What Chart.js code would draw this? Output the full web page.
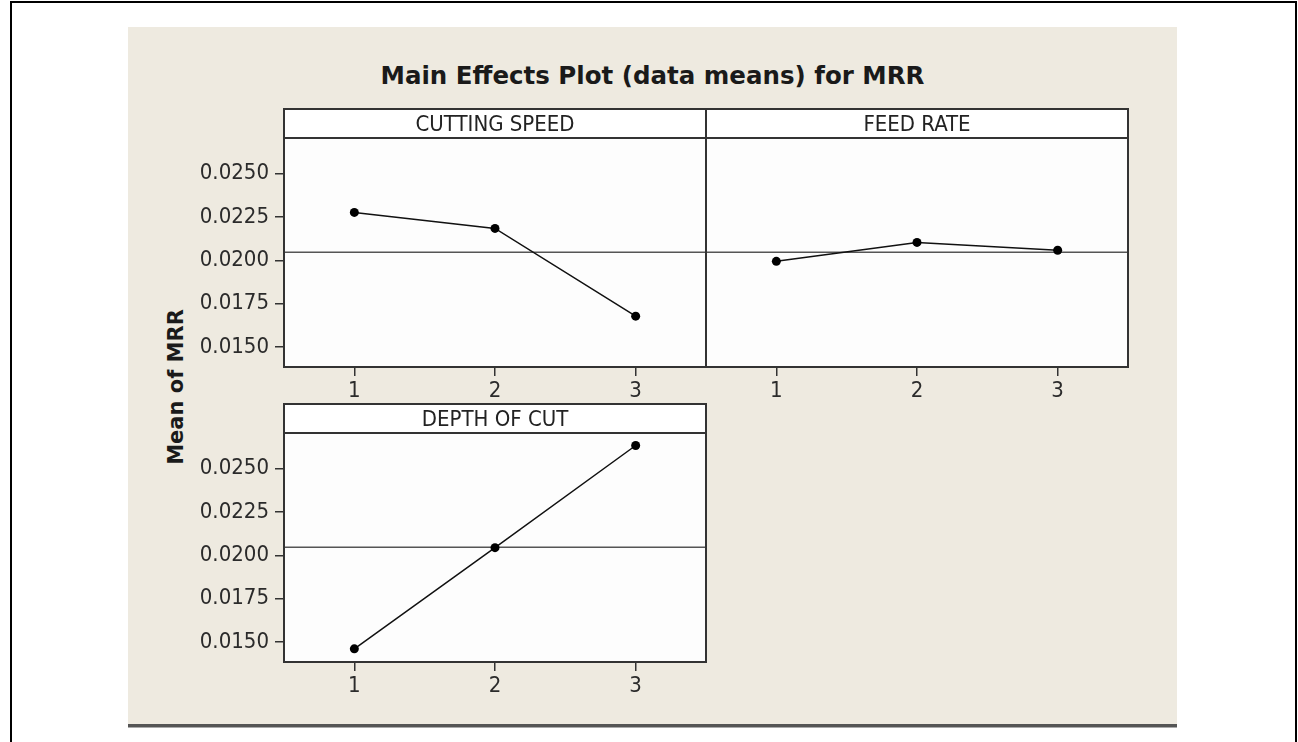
<!DOCTYPE html>
<html>
<head>
<meta charset="utf-8">
<title>Main Effects Plot (data means) for MRR</title>
<script src="https://cdn.jsdelivr.net/npm/chart.js@4"></script>
<style>
    body { margin: 0; width: 1298px; height: 742px; background: #fff; position: relative; overflow: hidden; font-family: 'DejaVu Sans', sans-serif; }
    #frame { position: absolute; left: 10px; top: 1px; width: 1283px; height: 800px; border: 2px solid #000; }
    #bg { position: absolute; left: 128px; top: 27px; width: 1049px; height: 697px; background: #eeeae0; border-bottom: 3px solid #555; box-shadow: 0 1px 0 #aaa; }
    #title { position: absolute; left: 128px; width: 1049px; top: 62px; text-align: center; font-size: 24.5px; line-height: 28px; font-weight: bold; color: #1a1a1a; white-space: nowrap; }
    #ylabel { position: absolute; left: 176px; top: 387px; transform: translate(-50%, -50%) rotate(-90deg); font-size: 21px; font-weight: bold; color: #1a1a1a; white-space: nowrap; }
    .panel { position: absolute; }
</style>
</head>
<body>
<div id="frame"></div>
<div id="bg"></div>
<div id="title">Main Effects Plot (data means) for MRR</div>
<div id="ylabel">Mean of MRR</div>
<div class="panel" style="left:140px; top:100px;"><canvas id="p1" width="575" height="310"></canvas></div>
<div class="panel" style="left:700px; top:100px;"><canvas id="p2" width="440" height="310"></canvas></div>
<div class="panel" style="left:140px; top:395px;"><canvas id="p3" width="575" height="310"></canvas></div>
<script>
const levels = ['1', '2', '3'];
const cuttingSpeed = [0.02276, 0.02184, 0.01678];
const feedRate = [0.01994, 0.02103, 0.02058];
const depthOfCut = [0.01461, 0.02044, 0.02633];
const grandMean = 0.02046;
const yTicks = [0.0150, 0.0175, 0.0200, 0.0225, 0.0250];
const yMin = 0.01385;
const yMax = 0.02705;

const FONT = "'DejaVu Sans Condensed', 'DejaVu Sans', sans-serif";
Chart.defaults.font.family = FONT;
Chart.defaults.color = '#2b2b2b';

// white plot box, header strip and reference line at the overall mean
const panelPlugin = {
    id: 'panel',
    beforeDraw(chart, args, opts) {
        const a = chart.chartArea;
        const ctx = chart.ctx;
        ctx.save();
        ctx.fillStyle = '#fdfdfd';
        ctx.fillRect(a.left, a.top, a.right - a.left, a.bottom - a.top);
        ctx.fillStyle = '#fff';
        ctx.fillRect(a.left, a.top - 29, a.right - a.left, 29);
        ctx.restore();
    },
    beforeDatasetsDraw(chart, args, opts) {
        const a = chart.chartArea;
        const ctx = chart.ctx;
        const y = chart.scales.y.getPixelForValue(grandMean);
        ctx.save();
        ctx.strokeStyle = '#555';
        ctx.lineWidth = 1.5;
        ctx.beginPath();
        ctx.moveTo(a.left, y);
        ctx.lineTo(a.right, y);
        ctx.stroke();
        ctx.restore();
    },
    afterDraw(chart, args, opts) {
        const a = chart.chartArea;
        const ctx = chart.ctx;
        ctx.save();
        ctx.strokeStyle = '#333';
        ctx.lineWidth = 2;
        ctx.strokeRect(a.left, a.top - 29, a.right - a.left, a.bottom - a.top + 29);
        ctx.beginPath();
        ctx.moveTo(a.left, a.top);
        ctx.lineTo(a.right, a.top);
        ctx.stroke();
        ctx.fillStyle = '#222';
        ctx.font = '22px ' + FONT;
        ctx.textAlign = 'center';
        ctx.textBaseline = 'alphabetic';
        ctx.fillText(opts.label, (a.left + a.right) / 2, a.top - 7);
        ctx.restore();
    }
};

function makePanel(id, label, values, showY, padding) {
    new Chart(document.getElementById(id), {
        type: 'line',
        data: {
            labels: levels,
            datasets: [{
                data: values,
                borderColor: '#111',
                borderWidth: 1.5,
                pointRadius: 4.5,
                pointBackgroundColor: '#000',
                pointBorderWidth: 0,
                tension: 0
            }]
        },
        options: {
            responsive: false,
            animation: false,
            layout: { padding: padding },
            plugins: {
                legend: { display: false },
                tooltip: { enabled: false },
                panel: { label: label }
            },
            scales: {
                x: {
                    type: 'category',
                    offset: true,
                    grid: { drawOnChartArea: false, drawTicks: true, tickLength: 9, color: '#333', lineWidth: 1.5 },
                    border: { display: false },
                    ticks: { font: { size: 22 }, padding: 2 },
                    afterFit: s => { s.height = 43; }
                },
                y: {
                    display: showY,
                    min: yMin,
                    max: yMax,
                    afterBuildTicks: s => { s.ticks = yTicks.map(v => ({ value: v })); },
                    grid: { drawOnChartArea: false, drawTicks: true, tickLength: 9, color: '#333', lineWidth: 1.5 },
                    border: { display: false },
                    ticks: { font: { size: 22 }, padding: 6, callback: v => v.toFixed(4) },
                    afterFit: s => { s.width = showY ? 144 : 0; }
                }
            }
        },
        plugins: [panelPlugin]
    });
}

makePanel('p1', 'CUTTING SPEED', cuttingSpeed, true, { top: 38, right: 9, left: 0, bottom: 0 });
makePanel('p2', 'FEED RATE', feedRate, false, { top: 38, right: 12, left: 6, bottom: 0 });
makePanel('p3', 'DEPTH OF CUT', depthOfCut, true, { top: 38, right: 9, left: 0, bottom: 0 });
</script>
</body>
</html>
